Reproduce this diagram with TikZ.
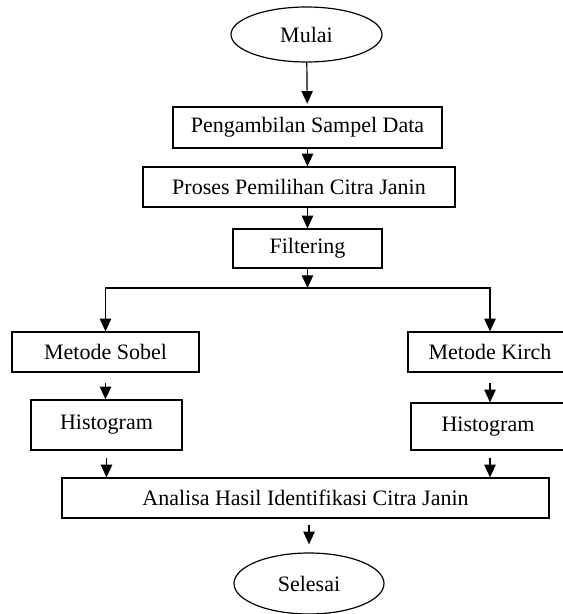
\documentclass[tikz,border=0pt]{standalone}
\usepackage{fontspec}
\setmainfont{Liberation Serif}
\usetikzlibrary{arrows.meta}
\usetikzlibrary{shapes.geometric}

\tikzset{
  teks/.style={font=\fontsize{16.5}{19}\selectfont},
  kotak/.style={draw, line width=0.9pt, rectangle, inner sep=0pt, teks},
  oval/.style={draw, line width=0.9pt, ellipse, inner sep=0pt, teks},
  panah/.style={-{Triangle[length=9.5pt,width=8.5pt]}, line width=0.9pt},
}

\begin{document}
\begin{tikzpicture}[x=0.75pt,y=0.75pt,yscale=-1,xscale=1]
\useasboundingbox (0,0) rectangle (563,614);
\clip (0,0) rectangle (563,614);

%Shape: Ellipse [id:mulai]
\node[oval, minimum width=113.25pt, minimum height=41.25pt] (mulai) at (306.5,34.5) {Mulai};
%Shape: Rectangle [id:ambil]
\node[kotak, minimum width=201.75pt, minimum height=30.75pt] (ambil) at (307.5,127.5) {Pengambilan Sampel Data};
%Shape: Rectangle [id:proses]
\node[kotak, minimum width=234pt, minimum height=30pt] (proses) at (299,187) {Proses Pemilihan Citra Janin};
%Shape: Rectangle [id:filter]
\node[kotak, minimum width=111.75pt, minimum height=29.25pt] (filter) at (307.5,248.5) {Filtering};

%Shape: Rectangle [id:sobel]
\node[kotak, minimum width=140.25pt, minimum height=30pt] (sobel) at (105.5,352) {Metode Sobel};
%Shape: Rectangle [id:kirch]
\node[kotak, minimum width=123pt, minimum height=30pt] (kirch) at (490,352) {Metode Kirch};
%Shape: Rectangle [id:histsobel]
\node[kotak, minimum width=113.25pt, minimum height=37.5pt] (histsobel) at (106.5,425) {Histogram};
%Shape: Rectangle [id:histkirch]
\node[kotak, minimum width=115.5pt, minimum height=35.25pt] (histkirch) at (488,426.5) {Histogram};

%Shape: Rectangle [id:analisa]
\node[kotak, minimum width=365.25pt, minimum height=30pt] (analisa) at (305.5,498) {Analisa Hasil Identifikasi Citra Janin};
%Shape: Ellipse [id:selesai]
\node[oval, minimum width=112.5pt, minimum height=45.75pt] (selesai) at (309,583.5) {Selesai};

%Straight Lines [id:cabang]
\coordinate (cabang) at (307.5,288);

\draw[panah, shorten >=2pt] (mulai) -- (ambil);
\draw[panah] (ambil) -- (proses.north -| ambil.south);
\draw[panah] (proses.south -| filter.north) -- (filter);
\draw[panah] (filter) -- (cabang);
\draw[panah] (cabang) -| (sobel);
\draw[panah] (cabang) -| (kirch);

\draw[panah, shorten <=7.5pt] (sobel) -- (histsobel.north -| sobel.south);
\draw[panah, shorten <=7.5pt] (kirch) -- (histkirch.north -| kirch.south);
\draw[panah, shorten <=5.25pt] (histsobel) -- (histsobel.south |- analisa.north);
\draw[panah, shorten <=5.25pt] (histkirch.south -| kirch.south) -- (kirch.south |- analisa.north);
\draw[panah, shorten <=5pt, shorten >=6pt] (analisa.south -| selesai.north) -- (selesai);

\end{tikzpicture}
\end{document}
